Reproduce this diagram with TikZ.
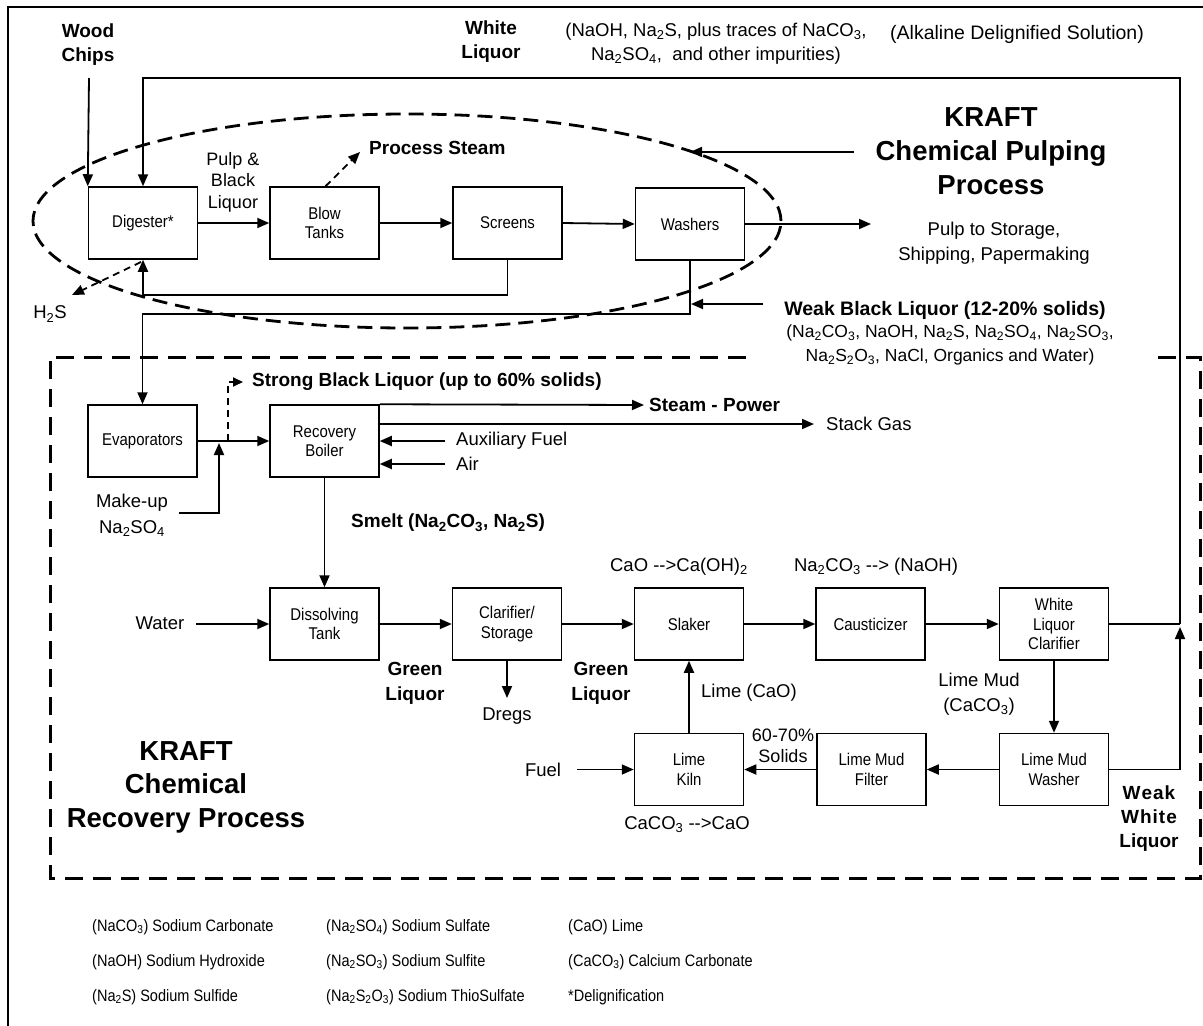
\documentclass[tikz,border=0pt]{standalone}
\usepackage{fontspec}
\setmainfont{Liberation Sans}
\newfontfamily\cond{Liberation Sans}[FakeStretch=0.88]
\usetikzlibrary{arrows.meta}
\begin{document}
\begin{tikzpicture}[x=1pt,y=-1pt,
 box/.style={draw, line width=1.5pt, minimum width=109pt, minimum height=72pt, inner sep=0pt, align=center, font=\cond\fontsize{17}{19.5}\selectfont},
 ar/.style={line width=1.8pt, -{Triangle[length=12pt,width=10pt]}},
 ln/.style={line width=1.4pt},
 dar/.style={line width=1.8pt, dash pattern=on 7pt off 5pt, -{Triangle[length=12pt,width=10pt]}},
 lab/.style={inner sep=0pt, align=center, font=\fontsize{18.5}{24}\selectfont},
 blab/.style={inner sep=0pt, align=center, font=\bfseries\fontsize{19}{24}\selectfont},
 ttl/.style={inner sep=0pt, align=center, font=\bfseries\fontsize{27.5}{34}\selectfont},
 leg/.style={inner sep=0pt, anchor=west, font=\cond\fontsize{16.5}{18}\selectfont},
 bigdash/.style={line width=3pt, dash pattern=on 18pt off 10pt},
]
\useasboundingbox (0,0) rectangle (1203,1026);
\fill[white] (0,0) rectangle (1203,1026);
% outer frame
\draw[line width=2.5pt] (8,1026) -- (8,7) -- (1203,7);

% boxes
\node[box] (dig) at (143,223) {Digester*};
\node[box] (blow) at (324.5,223) {Blow\\Tanks};
\node[box] (scr) at (507.5,223) {Screens};
\node[box] (wash) at (690,224) {Washers};
\node[box] (evap) at (142.5,441) {Evaporators};
\node[box] (rb) at (324.5,441) {Recovery\\Boiler};
\node[box] (dis) at (324.5,624) {Dissolving\\Tank};
\node[box] (clar) at (507,624) {Clarifier/\\Storage};
\node[box] (slak) at (689,624) {Slaker};
\node[box] (caus) at (870.5,624) {Causticizer};
\node[box] (wlc) at (1054,624) {White\\Liquor\\Clarifier};
\node[box] (lmw) at (1054,769.5) {Lime Mud\\Washer};
\node[box] (lmf) at (871.5,769.5) {Lime Mud\\Filter};
\node[box] (kiln) at (689,769.5) {Lime\\Kiln};

% ellipse
\draw[line width=2.8pt, dash pattern=on 15pt off 8pt] (407,221) ellipse [x radius=374pt, y radius=107pt];

% recovery dashed box
\draw[bigdash] (746,357) -- (50,357) -- (50,878) -- (1200,878) -- (1200,357) -- (1152,357);

% top labels
\node[blab] (wood) at (88,45) {Wood\\Chips};
\node[blab] (wliq) at (491,42) {White\\Liquor};
\node[lab] (wlcomp) at (716,44) {(NaOH, Na\textsubscript{2}S, plus traces of NaCO\textsubscript{3},\\Na\textsubscript{2}SO\textsubscript{4},\ \ and other impurities)};
\node[lab, anchor=west, font=\fontsize{19.5}{24}\selectfont] (alk) at (890,34) {(Alkaline Delignified Solution)};

% wood chips
\coordinate (wcs) at (89,78);
\draw[ar] (wcs) -- (dig.north west);

% white liquor loop
\coordinate (jn) at (1180,624);
\coordinate (jnb) at (1180,627);
\coordinate (tr) at (1180,78);
\draw[ln] (wlc.east) -- (jn);
\draw[ar] (jn) -- (tr) -- (tr -| dig.north) -- (dig.north);
\draw[ar] (lmw.east) -- (lmw.east -| jn) -- (jnb);

% pulping line
\draw[ar] (dig.east) -- (blow.west);
\node[lab, font=\fontsize{18}{21.5}\selectfont] (pbl) at (233,182) {Pulp \&\\Black\\Liquor};
\draw[ar] (blow.east) -- (scr.west);
\draw[ar] (scr.east) -- (wash.west);
\coordinate (pout) at (871,224);
\draw[ar] (wash.east) -- (pout);
\node[lab, font=\fontsize{18.5}{25}\selectfont] (pst) at (994,243) {Pulp to Storage,\\Shipping, Papermaking};

% title pulping
\node[ttl] (kp) at (991,151) {KRAFT\\Chemical Pulping\\Process};
\coordinate (t1) at (854,152);
\coordinate (t2) at (690,152);
\draw[ar] (t1) -- (t2);

% process steam
\coordinate (ps) at (360,152);
\draw[dar] ([xshift=1pt]blow.north) -- (ps);
\node[blab, anchor=west] (pstm) at (369,148) {Process Steam};

% screens return
\coordinate (sret) at (507.5,295);
\draw[ar] (scr.south) -- (sret) -| (dig.south);

% H2S
\coordinate (h1) at (141,262);
\coordinate (h2) at (72,295);
\draw[dar] (h1) -- (h2);
\node[lab] (h2s) at (50,314) {H\textsubscript{2}S};

% washers to evaporators
\coordinate (wret) at (690,314);
\draw[ar] (wash.south) -- (wret) -| (evap.north);
\coordinate (wb1) at (763,304);
\coordinate (wb2) at (691,304);
\draw[ar] (wb1) -- (wb2);
\node[blab, font=\bfseries\fontsize{19.5}{24}\selectfont] (wbl) at (945,310) {Weak Black Liquor (12-20\% solids)};
\node[lab, font=\fontsize{17.5}{24}\selectfont] (wblc) at (950,345) {(Na\textsubscript{2}CO\textsubscript{3}, NaOH, Na\textsubscript{2}S, Na\textsubscript{2}SO\textsubscript{4}, Na\textsubscript{2}SO\textsubscript{3},\\Na\textsubscript{2}S\textsubscript{2}O\textsubscript{3}, NaCl, Organics and Water)};

% recovery
\draw[ar] (evap.east) -- (rb.west);
\coordinate (sb1) at (228,441);
\coordinate (sb2) at (243,382);
\draw[dar, -{Triangle[length=10pt,width=9pt]}] (sb1) |- (sb2);
\node[blab, anchor=west] (sbl) at (252,382) {Strong Black Liquor (up to 60\% solids)};

\node[lab, font=\fontsize{18.5}{26}\selectfont] (mu) at (132,515) {Make-up\\Na\textsubscript{2}SO\textsubscript{4}};
\coordinate (mu1) at (179,513);
\coordinate (mu2) at (219,443);
\draw[ar] (mu1) -| (mu2);

\coordinate (sp) at (644,405);
\draw[ar] (rb.north east) -- (sp);
\node[blab, anchor=west] (spl) at (649,405) {Steam - Power};
\coordinate (sg) at (814,424);
\draw[ar] (sg -| rb.east) -- (sg);
\node[lab, anchor=west] (sgl) at (826,424) {Stack Gas};
\coordinate (af) at (445,441);
\draw[ar] (af) -- (af -| rb.east);
\node[lab, anchor=west] (afl) at (456,441) {Auxiliary Fuel};
\coordinate (air) at (445,464);
\draw[ar] (air) -- (air -| rb.east);
\node[lab, anchor=west] (airl) at (456,464) {Air};

\draw[ar] (rb.south) -- (dis.north);
\node[blab, anchor=west] (smelt) at (351,523) {Smelt (Na\textsubscript{2}CO\textsubscript{3}, Na\textsubscript{2}S)};

\node[lab] (water) at (160,623) {Water};
\coordinate (ws) at (196,624);
\draw[ar] (ws) -- (dis.west);
\draw[ar] (dis.east) -- (clar.west);
\node[blab, font=\bfseries\fontsize{19}{25}\selectfont] (gl1) at (415,683) {Green\\Liquor};
\coordinate (dr) at (507,698);
\draw[ar] (clar.south) -- (dr);
\node[lab] (dregs) at (507,716) {Dregs};
\draw[ar] (clar.east) -- (slak.west);
\node[blab, font=\bfseries\fontsize{19}{25}\selectfont] (gl2) at (601,683) {Green\\Liquor};
\draw[ar] (slak.east) -- (caus.west);
\draw[ar] (caus.east) -- (wlc.west);
\node[lab] (cao) at (679,567) {CaO -{}->Ca(OH)\textsubscript{2}};
\node[lab] (naoh) at (876,567) {Na\textsubscript{2}CO\textsubscript{3} -{}-> (NaOH)};

\draw[ar] (wlc.south) -- (lmw.north);
\node[lab, font=\fontsize{18.5}{25}\selectfont] (lmud) at (979,694) {Lime Mud\\(CaCO\textsubscript{3})};
\draw[ar] (lmw.west) -- (lmf.east);
\draw[ar] (lmf.west) -- (kiln.east);
\node[lab, font=\fontsize{18}{21}\selectfont] (sol) at (783,746) {60-70\%\\Solids};
\draw[ar] (kiln.north) -- (slak.south);
\node[lab, anchor=west] (lime) at (701,693) {Lime (CaO)};
\node[lab] (fuel) at (543,770) {Fuel};
\coordinate (fs) at (577,769.5);
\draw[ar] (fs) -- (kiln.west);
\node[lab] (caco) at (687,825) {CaCO\textsubscript{3} -{}->CaO};
\node[blab] (wwl) at (1149,819) {W\kern1pt e\kern1pt a\kern1pt k\\W\kern1pt h\kern1pt i\kern1pt t\kern1pt e\\Liquor};

\node[ttl, font=\bfseries\fontsize{27.5}{33.5}\selectfont] (kr) at (186,787) {KRAFT\\Chemical\\Recovery Process};

% legend
\node[leg] (l1) at (92,927) {(NaCO\textsubscript{3}) Sodium Carbonate};
\node[leg] (l2) at (92,962) {(NaOH) Sodium Hydroxide};
\node[leg] (l3) at (92,997) {(Na\textsubscript{2}S) Sodium Sulfide};
\node[leg] (l4) at (326,927) {(Na\textsubscript{2}SO\textsubscript{4}) Sodium Sulfate};
\node[leg] (l5) at (326,962) {(Na\textsubscript{2}SO\textsubscript{3}) Sodium Sulfite};
\node[leg] (l6) at (326,997) {(Na\textsubscript{2}S\textsubscript{2}O\textsubscript{3}) Sodium ThioSulfate};
\node[leg] (l7) at (568,927) {(CaO) Lime};
\node[leg] (l8) at (568,962) {(CaCO\textsubscript{3}) Calcium Carbonate};
\node[leg] (l9) at (568,997) {*Delignification};
\end{tikzpicture}
\end{document}
